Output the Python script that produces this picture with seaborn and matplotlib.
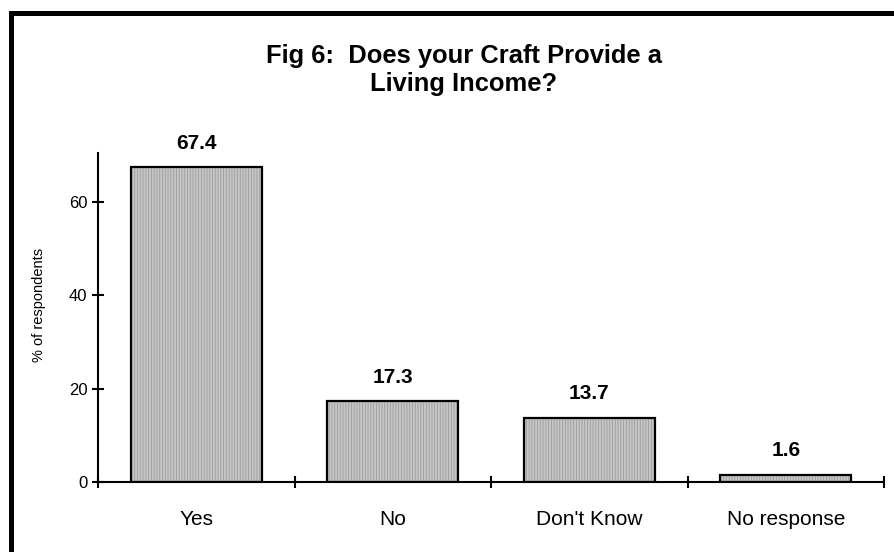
import matplotlib
matplotlib.use("Agg")
import matplotlib.pyplot as plt
from matplotlib.patches import Rectangle
import seaborn as sns
import pandas as pd

# Survey responses
categories = ["Yes", "No", "Don't Know", "No response"]
values = [67.4, 17.3, 13.7, 1.6]
y_ticks = [0, 20, 40, 60]

title = "Fig 6:  Does your Craft Provide a\nLiving Income?"
y_label = "% of respondents"

sns.set_theme(style="white")
plt.rcParams["font.family"] = ["Liberation Sans", "DejaVu Sans"]
plt.rcParams["hatch.linewidth"] = 0.6
plt.rcParams["text.color"] = "black"
plt.rcParams["axes.labelcolor"] = "black"
plt.rcParams["xtick.color"] = "black"
plt.rcParams["ytick.color"] = "black"
plt.rcParams["xtick.labelcolor"] = "black"
plt.rcParams["ytick.labelcolor"] = "black"

df = pd.DataFrame({"answer": categories, "pct": values})

fig = plt.figure(figsize=(8.94, 5.52), dpi=100)
W, H = 894, 552
ax = fig.add_axes([98 / W, 1 - 482 / H, (884 - 98) / W, (482 - 153) / H])

# striped grey fill
sns.barplot(data=df, x="answer", y="pct", ax=ax, width=0.667,
            color="#c6c6c6", saturation=1, hatch="||||||",
            edgecolor="#9c9c9c", linewidth=0, errorbar=None)
# black outlines on top
sns.barplot(data=df, x="answer", y="pct", ax=ax, width=0.667,
            fill=False, edgecolor="black", linewidth=1.6, errorbar=None)

ax.set_xlim(-0.5, len(categories) - 0.5)
ax.set_ylim(0, 70.5)

for i, v in enumerate(values):
    ax.annotate(f"{v}", (i, v), xytext=(0, 13.5), textcoords="offset points",
                ha="center", va="baseline", fontsize=15, fontweight="bold",
                color="black")

# axes styling
for side in ["top", "right"]:
    ax.spines[side].set_visible(False)
for side in ["left", "bottom"]:
    ax.spines[side].set_linewidth(1.5)
    ax.spines[side].set_color("black")

ax.set_yticks(y_ticks)
ax.set_yticklabels([str(t) for t in y_ticks], fontsize=12, color="black")
ax.tick_params(axis="y", direction="inout", length=9, width=1.5,
               color="black", pad=3, left=True)

ax.set_xticks(range(len(categories)))
ax.set_xticklabels(categories, fontsize=15, color="black")
ax.tick_params(axis="x", which="major", length=0, pad=20)
ax.set_xticks([i - 0.5 for i in range(len(categories) + 1)], minor=True)
ax.tick_params(axis="x", which="minor", direction="inout", length=9,
               width=1.5, color="black", bottom=True)

ax.set_xlabel("")
ax.set_ylabel("")
fig.text(39 / W, 1 - 304.5 / H, y_label, rotation=90, ha="center",
         va="center", fontsize=10.5, color="black")

fig.text(464 / W, 1 - 44 / H, title, ha="center", va="top",
         multialignment="center", fontsize=18.4, fontweight="bold",
         linespacing=1.22, color="black")

# outer frame, open towards the right and bottom edges
fig.patches.append(Rectangle((10.5 / W, -0.2), 1.5, 1.2 - 12.5 / H,
                             transform=fig.transFigure, fill=False,
                             edgecolor="black", linewidth=3.6))

fig.savefig("out.png", dpi=100, facecolor="white")
